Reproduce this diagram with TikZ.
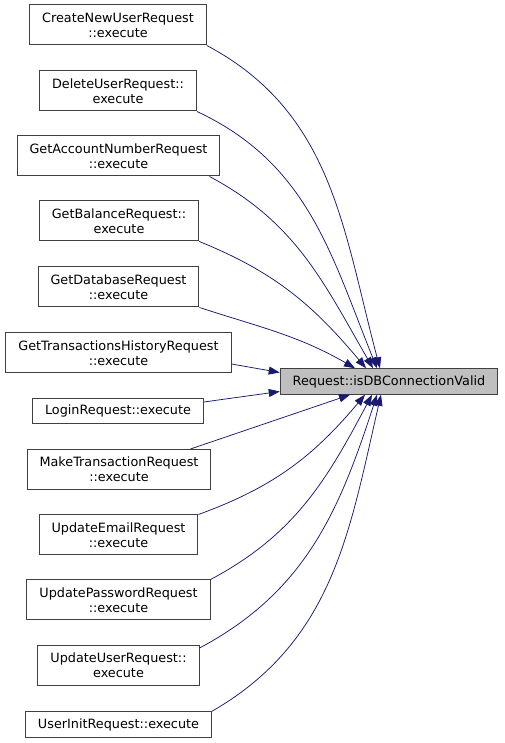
\documentclass[tikz,border=0pt]{standalone}
\usepackage{fontspec}
\setmainfont{DejaVu Sans}
\usetikzlibrary{arrows.meta}
\definecolor{edgeblue}{HTML}{191970}
\definecolor{boxline}{HTML}{404040}
\definecolor{boxfill}{HTML}{BFBFBF}

\begin{document}
\begin{tikzpicture}[x=1pt,y=1pt,
	caller_node/.style={rectangle,draw=boxline,line width=1pt,fill=white,align=center,font=\fontsize{12.8}{15}\selectfont,inner xsep=12.5pt,inner ysep=2pt,minimum height=40pt},
	single_node/.style={caller_node,minimum height=25.5pt},
	target_node/.style={single_node,fill=boxfill},
	call_edge/.style={draw=edgeblue,line width=0.75pt,-{Triangle[length=11pt,width=8pt]}}]
		
		\useasboundingbox (0,0) rectangle (504,743);
		
		\node[target_node] (isDBConnectionValid) at (389,361.5) {Request::isDBConnectionValid};
		
		\node[caller_node] (CreateNewUser) at (118,718) {CreateNewUserRequest\\::execute};
		\node[caller_node] (DeleteUser) at (118,652) {DeleteUserRequest::\\execute};
		\node[caller_node] (GetAccountNumber) at (118.5,587) {GetAccountNumberRequest\\::execute};
		\node[caller_node] (GetBalance) at (119,522) {GetBalanceRequest::\\execute};
		\node[caller_node] (GetDatabase) at (118.5,456) {GetDatabaseRequest\\::execute};
		\node[caller_node] (GetTransactionsHistory) at (118.5,390) {GetTransactionsHistoryRequest\\::execute};
		\node[single_node] (Login) at (118,332) {LoginRequest::execute};
		\node[caller_node] (MakeTransaction) at (119,273.5) {MakeTransactionRequest\\::execute};
		\node[caller_node] (UpdateEmail) at (118.5,208) {UpdateEmailRequest\\::execute};
		\node[caller_node] (UpdatePassword) at (118.5,143) {UpdatePasswordRequest\\::execute};
		\node[caller_node] (UpdateUser) at (118.5,77.5) {UpdateUserRequest::\\execute};
		\node[single_node] (UserInit) at (118.5,18.5) {UserInitRequest::execute};
		
		\draw[call_edge] (CreateNewUser.south east) to[out=-28,in=105] ([xshift=-9pt]isDBConnectionValid.north);
		\draw[call_edge] (DeleteUser.south east) to[out=-25,in=112] ([xshift=-12pt]isDBConnectionValid.north);
		\draw[call_edge] ([xshift=-11pt]GetAccountNumber.south east) to[out=-28,in=120] ([xshift=-16pt]isDBConnectionValid.north);
		\draw[call_edge] (GetBalance.south east) to[out=-22,in=130] ([xshift=-23pt]isDBConnectionValid.north);
		\draw[call_edge] (GetDatabase.south east) to[out=-18,in=150] ([xshift=-34pt]isDBConnectionValid.north);
		\draw[call_edge] ([yshift=-11pt]GetTransactionsHistory.east) -- ([yshift=9pt]isDBConnectionValid.west);
		\draw[call_edge] ([yshift=9pt]Login.east) -- ([yshift=-10pt]isDBConnectionValid.west);
		\draw[call_edge] ([xshift=-21pt]MakeTransaction.north east) -- ([xshift=-39pt]isDBConnectionValid.south);
		\draw[call_edge] (UpdateEmail.north east) to[out=20,in=-130] ([xshift=-24pt]isDBConnectionValid.south);
		\draw[call_edge] (UpdatePassword.north east) to[out=28,in=-118] ([xshift=-17pt]isDBConnectionValid.south);
		\draw[call_edge] ([yshift=-3pt]UpdateUser.north east) to[out=28,in=-108] ([xshift=-12pt]isDBConnectionValid.south);
		\draw[call_edge] (UserInit.north east) to[out=30,in=-103] ([xshift=-8pt]isDBConnectionValid.south);
		\end{tikzpicture}
\end{document}
